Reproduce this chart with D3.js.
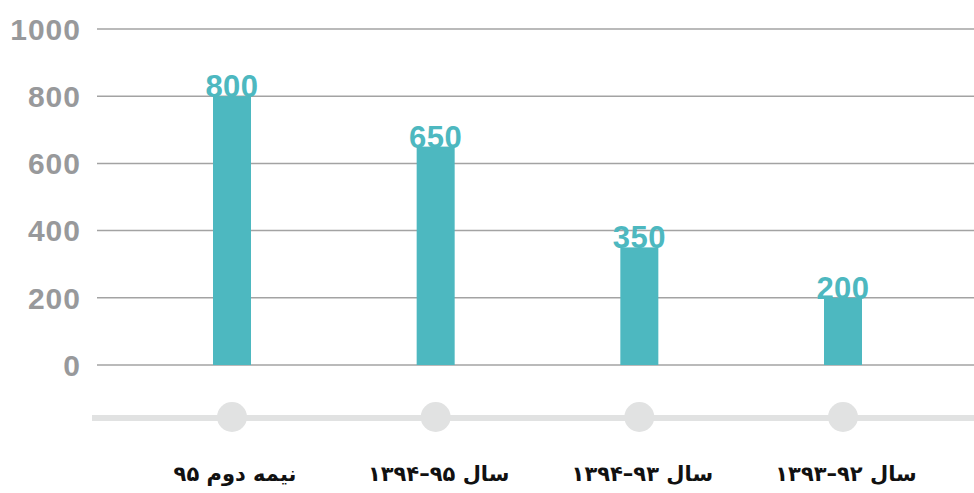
<!DOCTYPE html>
<html>
<head>
<meta charset="utf-8">
<script src="https://cdn.jsdelivr.net/npm/d3@7"></script>
<style>
  body { margin: 0; background: #fff; }
  .tick-label { font-family: "Liberation Sans", Arial, sans-serif; font-weight: bold; font-size: 30px; letter-spacing: 1px; fill: #98999b; }
  .value-label { font-family: "Liberation Sans", Arial, sans-serif; font-weight: bold; font-size: 31px; letter-spacing: 0.5px; fill: #4db8c0; }
  .cat-label { font-family: "DejaVu Sans", sans-serif; font-weight: bold; font-size: 21px; fill: #111; }
</style>
</head>
<body>
<div id="chart"></div>
<script>
var categories = ["نیمه دوم ۹۵", "سال ۹۵–۱۳۹۴", "سال ۹۳–۱۳۹۴", "سال ۹۲–۱۳۹۳"],
values = [800, 650, 350, 200],
yTicks = [0, 200, 400, 600, 800, 1000];

var width = 974,
height = 493,
barWidth = 38;

var svg = d3.select("#chart").append("svg")
.attr("width", width)
.attr("height", height);

var y = d3.scaleLinear().domain([0, 1000]).range([365, 29]);

var x = d3.scalePoint().domain(categories).range([232, 843]);

// grid lines
svg.append("g").attr("class", "grid")
.selectAll("line")
.data(yTicks)
.enter()
.append("line")
.attr("x1", 97)
.attr("x2", width)
.attr("y1", function(d){ return y(d); })
.attr("y2", function(d){ return y(d); })
.attr("stroke", "#a3a3a3")
.attr("stroke-width", 1.5);

svg.append("g")
.selectAll("text")
.data(yTicks)
.enter()
.append("text")
.attr("class", "tick-label")
.attr("x", 81)
.attr("y", function(d){ return y(d); })
.attr("dy", "0.36em")
.attr("text-anchor", "end")
.text(function(d){ return d; });

// bars
svg.append("g")
.selectAll("rect")
.data(values)
.enter()
.append("rect")
.attr("x", function(d, i){ return x(categories[i]) - barWidth / 2; })
.attr("y", function(d){ return y(d); })
.attr("width", barWidth)
.attr("height", function(d){ return y(0) - y(d); })
.attr("fill", "#4db8c0");

svg.append("g")
.selectAll("text")
.data(values)
.enter()
.append("text")
.attr("class", "value-label")
.attr("x", function(d, i){ return x(categories[i]); })
.attr("y", function(d){ return y(d) + 1; })
.attr("text-anchor", "middle")
.text(function(d){ return d; });

// timeline
svg.append("line")
.attr("x1", 92)
.attr("x2", width)
.attr("y1", 418)
.attr("y2", 418)
.attr("stroke", "#e1e2e2")
.attr("stroke-width", 6);

svg.append("g")
.selectAll("circle")
.data(categories)
.enter()
.append("circle")
.attr("cx", function(d){ return x(d); })
.attr("cy", 417)
.attr("r", 15)
.attr("fill", "#e1e2e2");

svg.append("g")
.selectAll("text")
.data(categories)
.enter()
.append("text")
.attr("class", "cat-label")
.attr("direction", "rtl")
.attr("x", function(d){ return x(d) + 3; })
.attr("y", 481)
.attr("text-anchor", "middle")
.text(function(d){ return d; });
</script>
</body>
</html>
